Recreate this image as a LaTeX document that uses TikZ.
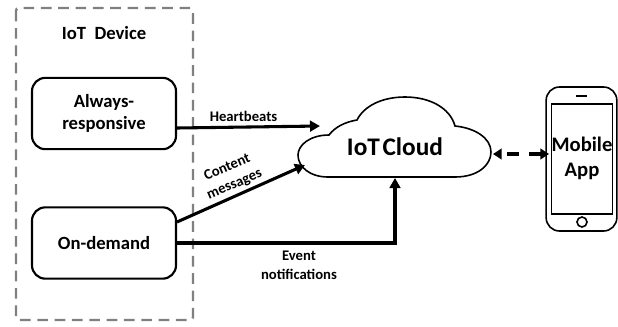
\documentclass[tikz,border=0pt]{standalone}
\usepackage{fontspec}
\setmainfont{Carlito}
\usetikzlibrary{arrows.meta}
\tikzset{
  lbl/.style={font=\bfseries\fontsize{11}{13}\selectfont,align=center,inner sep=0pt,text=black},
  boxlbl/.style={font=\bfseries\fontsize{14}{16.5}\selectfont,align=center,inner sep=0pt,text=black},
  devbox/.style={draw=black,line width=1.6pt,rounded corners=10pt,minimum width=108pt,minimum height=53.5pt,inner sep=0pt},
  conn/.style={line width=2.3pt,-{Triangle[length=7.5pt,width=8pt]}},
  frame/.style={draw=black!50,line width=1.8pt,dash pattern=on 8pt off 5pt,rounded corners=2pt},
  outline/.style={draw=black,line width=1.2pt},
}
\begin{document}
\begin{tikzpicture}[x=0.75pt,y=-0.75pt]
\useasboundingbox (0,0) rectangle (618,326);
\path[frame,draw] (16,8) rectangle (193,320);
\node[boxlbl] (title) at (104,33) {IoT\ \ Device};
\node[devbox,boxlbl] (always) at (104,113.5) {Always-\\responsive};
\node[devbox,boxlbl] (ondemand) at (104,243) {On-demand};
% cloud
\draw[outline] (328,177) -- (455,177)
  .. controls (478,177) and (491,165) .. (491,152)
  .. controls (491,138) and (475,128) .. (455,126)
  .. controls (450,108) and (430,97) .. (405,97)
  .. controls (382,97) and (364,106) .. (357,120)
  .. controls (345,122) and (335,127) .. (329,135)
  .. controls (310,135) and (298,145) .. (298,155)
  .. controls (298,167) and (310,177) .. (328,177) -- cycle;
\node[boxlbl,font=\bfseries\fontsize{19}{22}\selectfont] (cloud) at (395,147) {IoT\kern2pt Cloud};
\coordinate (cloudW) at (320,126);
\coordinate (cloudSW) at (305,165);
\coordinate (cloudS) at (395,178);
\coordinate (cloudE) at (493,154);
% phone
\node[draw=black,line width=1.2pt,rounded corners=10pt,minimum width=53pt,minimum height=108pt,inner sep=0pt] (phone) at (581.5,159) {};
\node[draw=black,line width=1.2pt,minimum width=46pt,minimum height=82.5pt,inner sep=0pt] (screen) at (582,159) {};
\node[boxlbl,font=\bfseries\fontsize{15.5}{18.75}\selectfont] (app) at (582,158.5) {Mobile\\App};
\coordinate (spkL) at (576,96);
\coordinate (spkR) at (587,96);
\draw[line width=1.2pt] (spkL) -- (spkR);
\node[draw=black,line width=1.2pt,circle,minimum size=7.5pt,inner sep=0pt] (home) at (582,222) {};
% connectors
\coordinate (hbS) at (177,128);
\coordinate (cmS) at (177,222);
\draw[conn] (hbS) -- (cloudW);
\draw[conn] (cmS) -- (cloudSW);
\draw[conn] (ondemand.east) -- (cloudS |- ondemand.east) -- (cloudS);
\coordinate (phW) at (549,154);
\draw[line width=2.3pt,{Triangle[length=6.5pt,width=8pt]}-{Triangle[length=6.5pt,width=8pt]},dash pattern=on 9pt off 7.5pt,dash phase=12pt] (cloudE) -- (phW);
% labels
\node[lbl] (hb) at (243.5,116) {Heartbeats};
\node[lbl,rotate=23,font=\bfseries\fontsize{11}{14}\selectfont] (cm) at (231,176) {Content\\messages};
\node[lbl,font=\bfseries\fontsize{11}{14}\selectfont] (en) at (299,265) {Event\\notifications};
\end{tikzpicture}
\end{document}
